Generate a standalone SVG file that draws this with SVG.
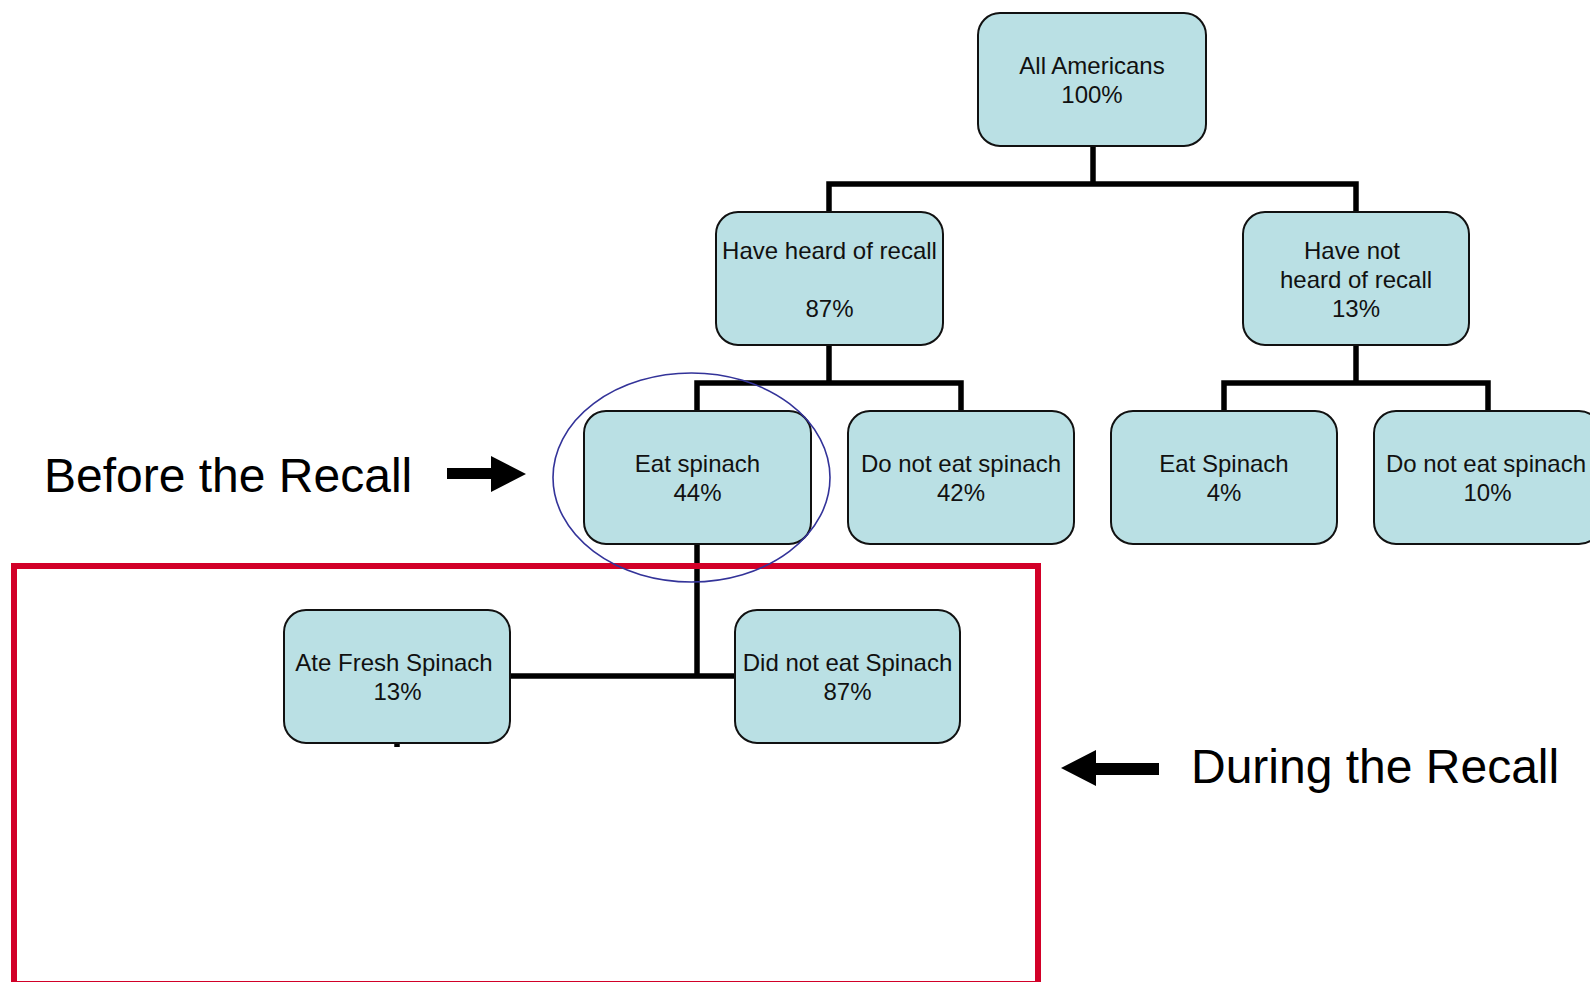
<svg xmlns="http://www.w3.org/2000/svg" width="1590" height="982" viewBox="0 0 1590 982">
<style>
.box{fill:#bae0e4;stroke:#111;stroke-width:2}
.t{font-family:"Liberation Sans",Arial,sans-serif;font-size:24px;fill:#111;text-anchor:middle}
.big{font-family:"Liberation Sans",Arial,sans-serif;font-size:48px;fill:#000}
.c{stroke:#000;stroke-width:5.5;fill:none;stroke-linecap:butt}
</style>
<rect width="1590" height="982" fill="#fff"/>
<g id="connectors">
<polyline class="c" points="1093,146 1093,184"/>
<polyline class="c" points="829,212 829,184 1356,184 1356,212"/>
<polyline class="c" points="829,345 829,383"/>
<polyline class="c" points="697,411 697,383 961,383 961,411"/>
<polyline class="c" points="1356,345 1356,383"/>
<polyline class="c" points="1224,411 1224,383 1488,383 1488,411"/>
<polyline class="c" points="697,544 697,676"/>
<polyline class="c" points="510,676 735,676"/>
<polyline class="c" points="397,743 397,747"/>
</g>
<g id="n-all">
<rect class="box" x="978" y="13" width="228" height="133" rx="22"/>
<text class="t" x="1092" y="74">All Americans</text>
<text class="t" x="1092" y="103">100%</text>
</g>
<g id="n-heard">
<rect class="box" x="716" y="212" width="227" height="133" rx="22"/>
<text class="t" x="829.5" y="258.5">Have heard of recall</text>
<text class="t" x="829.5" y="316.5">87%</text>
</g>
<g id="n-notheard">
<rect class="box" x="1243" y="212" width="226" height="133" rx="22"/>
<text class="t" x="1352" y="258.5">Have not</text>
<text class="t" x="1356" y="287.5">heard of recall</text>
<text class="t" x="1356" y="316.5">13%</text>
</g>
<g id="n-eat1">
<rect class="box" x="584" y="411" width="227" height="133" rx="22"/>
<text class="t" x="697.5" y="472">Eat spinach</text>
<text class="t" x="697.5" y="501">44%</text>
</g>
<g id="n-noeat1">
<rect class="box" x="848" y="411" width="226" height="133" rx="22"/>
<text class="t" x="961" y="472">Do not eat spinach</text>
<text class="t" x="961" y="501">42%</text>
</g>
<g id="n-eat2">
<rect class="box" x="1111" y="411" width="226" height="133" rx="22"/>
<text class="t" x="1224" y="472">Eat Spinach</text>
<text class="t" x="1224" y="501">4%</text>
</g>
<g id="n-noeat2">
<rect class="box" x="1374" y="411" width="227" height="133" rx="22"/>
<text class="t" x="1486" y="472">Do not eat spinach</text>
<text class="t" x="1487.5" y="501">10%</text>
</g>
<g id="n-fresh">
<rect class="box" x="284" y="610" width="226" height="133" rx="22"/>
<text class="t" x="394" y="671">Ate Fresh Spinach</text>
<text class="t" x="397.5" y="700">13%</text>
</g>
<g id="n-didnot">
<rect class="box" x="735" y="610" width="225" height="133" rx="22"/>
<text class="t" x="847.5" y="671">Did not eat Spinach</text>
<text class="t" x="847.5" y="700">87%</text>
</g>
<rect x="14" y="566" width="1024" height="418" fill="none" stroke="#d20028" stroke-width="6"/>
<ellipse cx="691.5" cy="477.5" rx="138.5" ry="104.5" fill="none" stroke="#333399" stroke-width="1.6"/>
<g id="label-before">
<text class="big" x="44" y="492">Before the Recall</text>
<polygon points="447,468 491,468 491,456 526,474 491,492 491,479 447,479" fill="#000"/>
</g>
<g id="label-during">
<text class="big" x="1191" y="783">During the Recall</text>
<polygon points="1159,763 1096,763 1096,750 1061,768 1096,786 1096,775 1159,775" fill="#000"/>
</g>
</svg>
